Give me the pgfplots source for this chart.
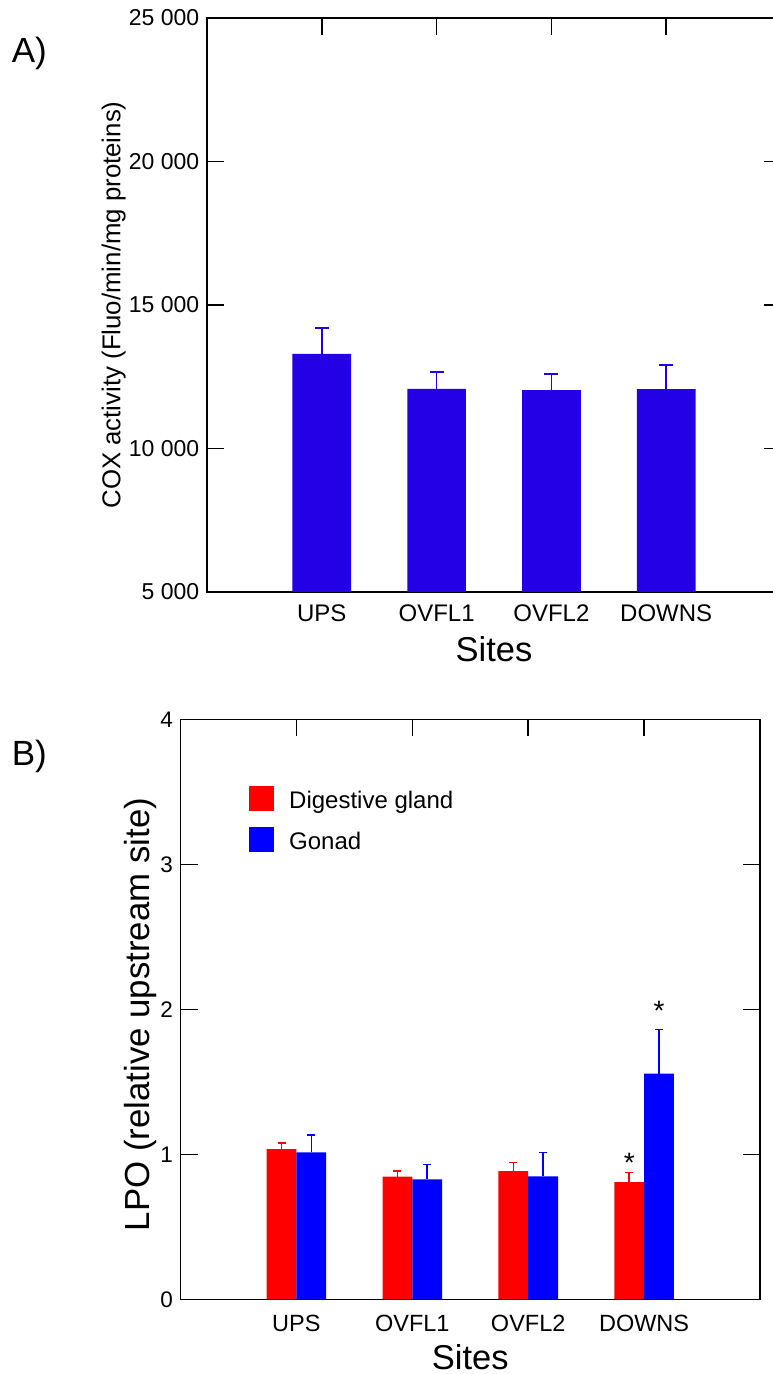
\documentclass[border=0pt]{standalone}
\usepackage{fontspec}
\setmainfont{Liberation Sans}
\usepackage{pgfplots}
\pgfplotsset{compat=1.18}
\definecolor{barA}{RGB}{36,0,230}
\definecolor{redB}{RGB}{255,0,0}
\definecolor{blueB}{RGB}{0,0,255}
\newcommand{\fs}[1]{\fontsize{#1pt}{#1pt}\selectfont}
\begin{document}
\begin{tikzpicture}
\useasboundingbox (0,0) rectangle (773pt,1374pt);
\clip (0,0) rectangle (773pt,1374pt);
\pgfplotsset{
  common/.style={
    scale only axis,
    axis line style={line width=1.8pt, black},
    major tick length=17pt,
    every tick/.style={line width=1.5pt, black},
    xtick={0,1,2,3},
    xticklabels={UPS,OVFL1,OVFL2,DOWNS},
    xtick pos=right, xticklabel pos=left,
    ytick pos=both, yticklabel pos=left,
    xmin=-1, xmax=4,
    scaled y ticks=false, scaled x ticks=false,
    clip=false,
    xlabel={Sites},
    xlabel style={at={(axis description cs:0.5,0)}, anchor=north, inner sep=0pt, font=\fs{34.5}},
    yticklabel style={anchor=east, inner sep=0pt, xshift=-7.5pt},
    xticklabel style={anchor=north, inner sep=0pt},
  }
}
% Panel A
\begin{axis}[common,
  at={(207pt,782pt)}, anchor=south west,
  width=574pt, height=574pt,
  ymin=5000, ymax=25000,
  ytick={5000,10000,15000,20000,25000},
  yticklabels={5 000,10 000,15 000,20 000,25 000},
  yticklabel style={font=\fs{23}},
  xticklabel style={font=\fs{24}, yshift=-13pt},
  xlabel style={yshift=-44.7pt},
  ylabel={COX activity (Fluo/min/mg proteins)},
  ylabel style={at={(axis description cs:-0.1624,0.5)}, anchor=center, inner sep=0pt, font=\fs{25.8}},
  tick align=inside,
]
\addplot[ybar, bar width=58.7pt, fill=barA, draw=none,
  error bars/.cd, y dir=plus, y explicit, error mark=|,
  error bar style={line width=1.6pt, barA},
  error mark options={line width=1.6pt, barA, mark size=7pt}]
  coordinates {(0,13300) +- (0,900) (1,12080) +- (0,575) (2,12030) +- (0,570) (3,12070) +- (0,840)};
\end{axis}
% Panel B
\begin{axis}[common,
  at={(180.5pt,74.5pt)}, anchor=south west,
  width=579.5pt, height=580pt,
  ymin=0, ymax=4,
  ytick={0,1,2,3,4},
  yticklabels={0,1,2,3,4},
  yticklabel style={font=\fs{22.5}},
  xticklabel style={font=\fs{23.5}, yshift=-15.5pt},
  xlabel style={yshift=-44.5pt},
  ylabel={LPO (relative upstream site)},
  ylabel style={at={(axis description cs:-0.0685,0.4914)}, anchor=center, inner sep=0pt, font=\fs{34.8}},
  ybar=0pt, bar width=29.8pt,
  tick align=inside,
  legend style={draw=none, fill=none, at={(0.1182,0.8853)}, anchor=north west, inner sep=0pt,
    row sep=15.9pt, font=\fs{24}, nodes={inner sep=0pt},
    /tikz/every odd column/.append style={column sep=15pt}},
  legend cell align=left,
  legend image code/.code={\fill[#1, draw=none] (0pt,-10.4pt) rectangle (25pt,14.6pt);},
]
\addplot[fill=redB, draw=none,
  error bars/.cd, y dir=plus, y explicit, error mark=|,
  error bar style={line width=1.5pt, redB},
  error mark options={line width=1.5pt, redB, mark size=4pt}]
  coordinates {(0,1.037) +- (0,0.041) (1,0.847) +- (0,0.039) (2,0.886) +- (0,0.059) (3,0.810) +- (0,0.066)};
\addplot[fill=blueB, draw=none,
  error bars/.cd, y dir=plus, y explicit, error mark=|,
  error bar style={line width=1.5pt, blueB},
  error mark options={line width=1.5pt, blueB, mark size=4pt}]
  coordinates {(0,1.014) +- (0,0.122) (1,0.828) +- (0,0.103) (2,0.849) +- (0,0.165) (3,1.558) +- (0,0.305)};
\legend{Digestive gland, Gonad}
\node[anchor=base, xshift=-14.9pt, inner sep=0pt, font=\fs{28}] at (axis cs:3,0.875) {*};
\node[anchor=base, xshift=14.9pt, inner sep=0pt, font=\fs{28}] at (axis cs:3,1.922) {*};
\end{axis}
\node[anchor=base west, inner sep=0pt, font=\fs{35}] at (11.7pt,1311.5pt) {A)};
\node[anchor=base west, inner sep=0pt, font=\fs{35}] at (11.7pt,608.8pt) {B)};
\end{tikzpicture}
\end{document}
